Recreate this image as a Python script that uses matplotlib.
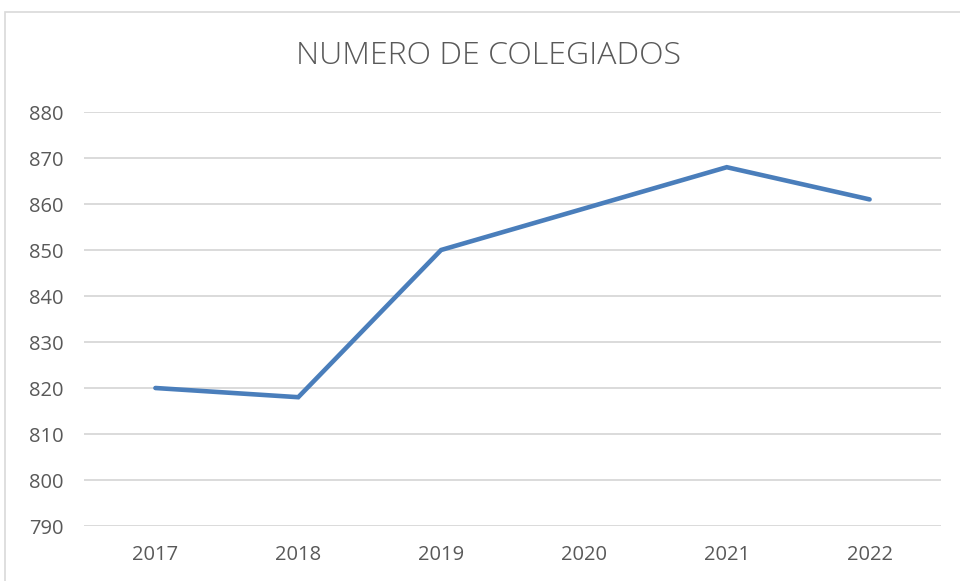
import matplotlib
matplotlib.use("Agg")
import matplotlib.pyplot as plt
from matplotlib.patches import Rectangle

plt.rcParams['font.family'] = ['Open Sans', 'DejaVu Sans']

years = ['2017', '2018', '2019', '2020', '2021', '2022']
colegiados = [820, 818, 850, 859, 868, 861]
y_ticks = list(range(790, 881, 10))

W, H = 960, 581
fig = plt.figure(figsize=(W / 100, H / 100), dpi=100)

# chart border (cut off at right and bottom, like the screenshot)
fig.patches.append(Rectangle((5 / W, -0.1), 1.2, 1 - 12 / H + 0.1,
                             transform=fig.transFigure, fill=False,
                             edgecolor='#d9d9d9', linewidth=1.2))

ax = fig.add_axes([84 / W, 1 - 526 / H, (941 - 84) / W, (526 - 112) / H])
x = list(range(len(years)))
ax.plot(x, colegiados, color='#4a7ebb', linewidth=3.3,
        solid_capstyle='round', solid_joinstyle='miter', zorder=3)

ax.set_xlim(-0.5, len(years) - 0.5)
ax.set_ylim(790, 880)
ax.set_yticks(y_ticks)
ax.set_xticks(x)
ax.set_xticklabels(years)
ax.yaxis.grid(True, color='#d4d4d4', linewidth=1.2)
ax.set_axisbelow(True)
for s in ax.spines.values():
    s.set_visible(False)
ax.tick_params(axis='both', length=0, labelsize=14.5, labelcolor='#595959')
ax.tick_params(axis='y', pad=15)
ax.tick_params(axis='x', pad=14)

fig.text(489 / W, 1 - 56 / H, 'NUMERO DE COLEGIADOS', ha='center', va='center',
         fontsize=23, color='#595959', fontweight='light')

fig.savefig('out.png', dpi=100)
